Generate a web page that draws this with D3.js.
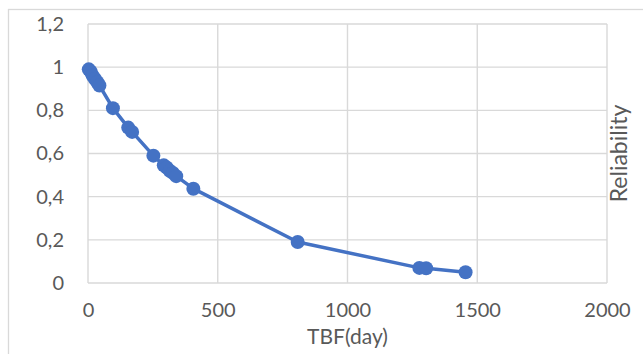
<!DOCTYPE html>
<html>
<head>
<meta charset="utf-8">
<script src="https://cdn.jsdelivr.net/npm/d3@7"></script>
<style>
  html, body { margin: 0; padding: 0; background: #fff; }
  svg { display: block; font-family: Lato, "Open Sans", sans-serif; }
  .tick text { fill: #595959; }
</style>
</head>
<body>
<div id="chart"></div>
<script>
// data
var tbfDays = [3, 10, 18, 27, 36, 44, 96, 155, 170, 252, 292, 303, 315, 327, 340, 406, 808, 1277, 1303, 1455];
var reliability = [0.99, 0.98, 0.96, 0.945, 0.93, 0.915, 0.81, 0.72, 0.70, 0.59, 0.545, 0.535, 0.52, 0.51, 0.495, 0.437, 0.19, 0.07, 0.068, 0.05];

var xTicks = [0, 500, 1000, 1500, 2000];
var xTickLabels = ["0", "500", "1000", "1500", "2000"];
var yTicks = [0, 0.2, 0.4, 0.6, 0.8, 1, 1.2];
var yTickLabels = ["0", "0,2", "0,4", "0,6", "0,8", "1", "1,2"];

var xTitle = "TBF(day)";
var yTitle = "Reliability";

//////// CANVAS ////////
var outerWidth = 643,
    outerHeight = 354;
var margin = {top: 24, right: 36, bottom: 71, left: 88},
    width = 607 - margin.left,
    height = 283 - margin.top;

var svg = d3.select("#chart").append("svg")
    .attr("width", outerWidth)
    .attr("height", outerHeight);

// chart frame
svg.append("rect")
    .attr("x", 8.5).attr("y", 9.5)
    .attr("width", 700).attr("height", 400)
    .attr("fill", "none")
    .attr("stroke", "#d9d9d9")
    .attr("stroke-width", 1.3);

var g = svg.append("g")
    .attr("transform", "translate(" + margin.left + "," + margin.top + ")");

//////// SCALES ////////
var xScale = d3.scaleLinear().domain([0, 2000]).range([0, width]);
var yScale = d3.scaleLinear().domain([0, 1.2]).range([height, 0]);

// GRID
var grid = g.append("g").attr("class", "grid");

grid.selectAll("line.h")
    .data(yTicks)
    .enter().append("line")
        .attr("class", "h")
        .attr("x1", 0).attr("x2", width)
        .attr("y1", function(d) { return yScale(d); })
        .attr("y2", function(d) { return yScale(d); });

grid.selectAll("line.v")
    .data(xTicks)
    .enter().append("line")
        .attr("class", "v")
        .attr("x1", function(d) { return xScale(d); })
        .attr("x2", function(d) { return xScale(d); })
        .attr("y1", 0).attr("y2", height);

grid.selectAll("line")
    .attr("stroke", "#d9d9d9")
    .attr("stroke-width", 1.4);

// AXES
var xAxis = g.append("g")
    .attr("transform", "translate(0," + height + ")")
    .call(d3.axisBottom(xScale).tickValues(xTicks).tickSize(0).tickPadding(20)
        .tickFormat(function(d, i) { return xTickLabels[i]; }));
xAxis.select(".domain").remove();
xAxis.selectAll("text").attr("font-size", 20).attr("font-family", "Lato");

var yAxis = g.append("g")
    .call(d3.axisLeft(yScale).tickValues(yTicks).tickSize(0).tickPadding(24)
        .tickFormat(function(d, i) { return yTickLabels[i]; }));
yAxis.select(".domain").remove();
yAxis.selectAll("text").attr("font-size", 20).attr("font-family", "Lato");

// titles
svg.append("text")
    .attr("x", margin.left + width / 2)
    .attr("y", 344)
    .attr("text-anchor", "middle")
    .attr("fill", "#595959")
    .attr("font-size", 21)
    .text(xTitle);

svg.append("text")
    .attr("transform", "translate(627," + (margin.top + height / 2) + ") rotate(-90)")
    .attr("text-anchor", "middle")
    .attr("fill", "#595959")
    .attr("font-size", 23)
    .text(yTitle);

// LINE + MARKERS
var points = tbfDays.map(function(d, i) { return {x: d, y: reliability[i]}; });

var line = d3.line()
    .x(function(d) { return xScale(d.x); })
    .y(function(d) { return yScale(d.y); });

g.append("path")
    .datum(points)
    .attr("d", line)
    .attr("fill", "none")
    .attr("stroke", "#4472c4")
    .attr("stroke-width", 3.5)
    .attr("stroke-linejoin", "round");

g.selectAll("circle")
    .data(points)
    .enter().append("circle")
        .attr("cx", function(d) { return xScale(d.x); })
        .attr("cy", function(d) { return yScale(d.y); })
        .attr("r", 7)
        .attr("fill", "#4472c4");
</script>
</body>
</html>
